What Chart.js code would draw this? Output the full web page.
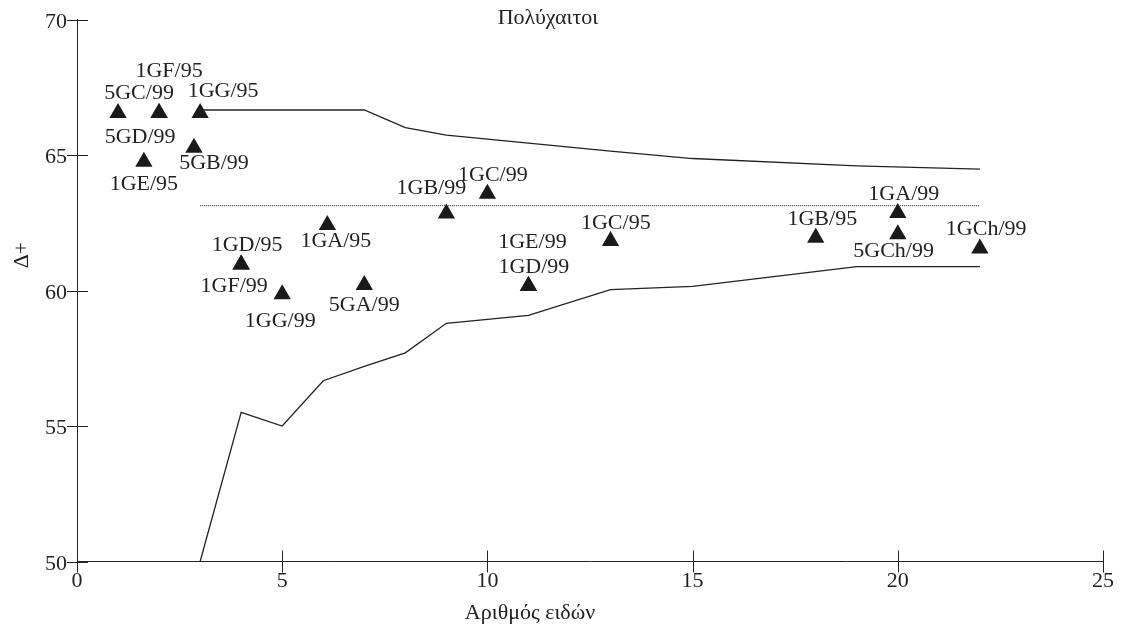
<!DOCTYPE html>
<html>
<head>
<meta charset="utf-8">
<title>Πολύχαιτοι</title>
<script src="https://cdn.jsdelivr.net/npm/chart.js@4.4.0/dist/chart.umd.min.js"></script>
<style>
  body { margin: 0; background: #fff; }
  canvas { display: block; }
</style>
</head>
<body>
<canvas id="chart" width="1125" height="633"></canvas>
<script>
// Expected range of Δ+ by number of species (upper / lower limits)
const funnelSpecies = [3, 4, 5, 6, 7, 8, 9, 11, 13, 15, 19, 22];
const upperLimit = [66.66, 66.66, 66.66, 66.66, 66.66, 66.01, 65.73, 65.44, 65.14, 64.87, 64.60, 64.48];
const lowerLimit = [50.0, 55.5, 55.0, 56.67, 57.2, 57.7, 58.79, 59.08, 60.03, 60.15, 60.88, 60.88];

// Mean Δ+
const meanSpecies = [3, 22];
const meanDelta = [63.13, 63.13];

// Samples
const sampleNames = ['5GC/99', '5GD/99', '1GF/95', '1GG/95', '5GB/99', '1GE/95', '1GD/95', '1GF/99',
  '1GG/99', '1GA/95', '5GA/99', '1GB/99', '1GC/99', '1GE/99', '1GD/99', '1GC/95', '1GB/95',
  '1GA/99', '5GCh/99', '1GCh/99'];
const sampleSpecies = [1, 2, 2, 3, 2.85, 1.63, 4, 4, 5, 6.1, 7, 9, 10, 11, 11, 13, 18, 20, 20, 22];
const sampleDelta = [66.55, 66.55, 66.55, 66.55, 65.27, 64.75, 60.96, 60.96, 59.86, 62.42, 60.2,
  62.84, 63.57, 60.17, 60.17, 61.83, 61.95, 62.86, 62.08, 61.55];

const xTicks = [0, 5, 10, 15, 20, 25];
const yTicks = [50, 55, 60, 65, 70];

// where each sample label sits relative to its marker (px)
const labelNudge = [[21, -20], [-19, 24], [10, -42], [23, -22], [20, 16], [0, 22], [6, -19], [-7, 22],
  [-2, 26.5], [8.5, 16.3], [0, 20], [-15, -25], [5.5, -18.3], [4, -43.6], [5.4, -19], [5.3, -18],
  [6.6, -18.6], [6, -19], [-4.2, 16.6], [6.3, -19]];

const INK = '#222';
const FONT = '"Liberation Serif", "Times New Roman", serif';

const xy = (xs, ys) => xs.map((x, i) => ({ x: x, y: ys[i] }));

// crossing tick marks on both axes
const crossTicks = {
  id: 'crossTicks',
  afterDraw(chart) {
    const { ctx, chartArea: a, scales: { x, y } } = chart;
    ctx.save();
    ctx.strokeStyle = INK;
    ctx.lineWidth = 1;
    ctx.beginPath();
    xTicks.forEach(v => {
      const px = Math.round(x.getPixelForValue(v)) + 0.5;
      ctx.moveTo(px, a.bottom - 11);
      ctx.lineTo(px, a.bottom + 11);
    });
    yTicks.forEach(v => {
      const py = Math.round(y.getPixelForValue(v)) + 0.5;
      ctx.moveTo(a.left - 10, py);
      ctx.lineTo(a.left + 11, py);
    });
    ctx.stroke();
    ctx.restore();
  }
};

// title, axis titles and sample labels
const textLayer = {
  id: 'textLayer',
  afterDatasetsDraw(chart) {
    const ctx = chart.ctx;
    ctx.save();
    ctx.fillStyle = INK;
    ctx.font = '22px ' + FONT;
    ctx.textAlign = 'center';
    ctx.textBaseline = 'middle';

    const pts = chart.getDatasetMeta(3).data;
    pts.forEach((p, i) => {
      ctx.fillText(sampleNames[i], p.x + labelNudge[i][0], p.y + labelNudge[i][1]);
    });

    ctx.fillText('Πολύχαιτοι', 548, 18);
    ctx.fillText('Αριθμός ειδών', 530, 613);

    ctx.translate(22, 255);
    ctx.rotate(-Math.PI / 2);
    ctx.fillText('Δ+', 0, 0);
    ctx.restore();
  }
};

new Chart(document.getElementById('chart'), {
  type: 'scatter',
  data: {
    datasets: [
      {
        label: 'upper',
        data: xy(funnelSpecies, upperLimit),
        showLine: true,
        borderColor: INK,
        borderWidth: 1.3,
        pointRadius: 0
      },
      {
        label: 'lower',
        data: xy(funnelSpecies, lowerLimit),
        showLine: true,
        borderColor: INK,
        borderWidth: 1.3,
        pointRadius: 0
      },
      {
        label: 'mean',
        data: xy(meanSpecies, meanDelta),
        showLine: true,
        borderColor: INK,
        borderWidth: 1,
        borderDash: [1, 1],
        pointRadius: 0
      },
      {
        label: 'samples',
        data: xy(sampleSpecies, sampleDelta),
        pointStyle: 'triangle',
        pointRadius: 10,
        pointBorderWidth: 0,
        pointBackgroundColor: '#1a1a1a',
        pointBorderColor: '#1a1a1a'
      }
    ]
  },
  options: {
    responsive: false,
    animation: false,
    layout: { padding: { top: 19.5, right: 22, bottom: 0, left: 0 } },
    plugins: {
      legend: { display: false },
      tooltip: { enabled: false }
    },
    scales: {
      x: {
        type: 'linear',
        min: 0,
        max: 25,
        afterBuildTicks: s => { s.ticks = xTicks.map(v => ({ value: v })); },
        afterFit: s => { s.height = 71.5; s.paddingLeft = 0; s.paddingRight = 0; },
        grid: { display: false, drawTicks: false },
        border: { display: true, color: INK, width: 1 },
        ticks: { color: INK, padding: 7, maxRotation: 0, font: { family: FONT, size: 22 } }
      },
      y: {
        type: 'linear',
        min: 50,
        max: 70,
        afterBuildTicks: s => { s.ticks = yTicks.map(v => ({ value: v })); },
        afterFit: s => { s.width = 77; s.paddingTop = 0; s.paddingBottom = 0; },
        grid: { display: false, drawTicks: false },
        border: { display: true, color: INK, width: 1 },
        ticks: { color: INK, padding: 10, labelOffset: 2.5, font: { family: FONT, size: 22 } }
      }
    }
  },
  plugins: [crossTicks, textLayer]
});
</script>
</body>
</html>
